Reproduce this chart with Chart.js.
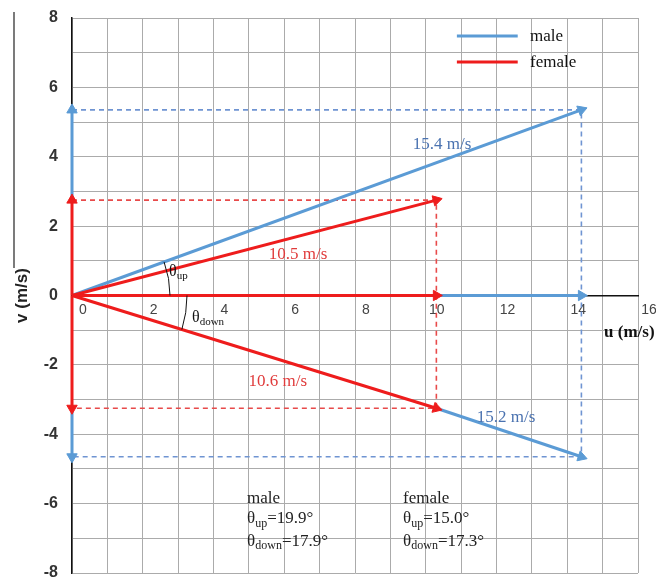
<!DOCTYPE html>
<html>
<head>
<meta charset="utf-8">
<script src="https://cdn.jsdelivr.net/npm/chart.js@4.4.1/dist/chart.umd.min.js"></script>
<style>
  html, body { margin: 0; padding: 0; background: #fff; }
  canvas { display: block; }
</style>
</head>
<body>
<canvas id="chart" width="656" height="581"></canvas>
<script>
// groups and their colours
const groups = ["male", "female"];
const groupColors = ["#5b9bd5", "#ee1c1c"];
const dashColors = ["#6f94d2", "#e84a4a"];
// velocity components (m/s)
const uComp = [14.4, 10.3];
const vUp = [5.35, 2.75];
const vDown = [-4.65, -3.25];
// labels
const speedUp = ["15.4 m/s", "10.5 m/s"];
const speedDown = ["15.2 m/s", "10.6 m/s"];
const thetaUp = ["19.9", "15.0"];
const thetaDown = ["17.9", "17.3"];
const xTicks = [0, 2, 4, 6, 8, 10, 12, 14, 16];
const yTicks = [-8, -6, -4, -2, 0, 2, 4, 6, 8];

const M = 0, F = 1;
const SERIF = '"Liberation Serif", "Times New Roman", serif';

Chart.defaults.font.family = '"Liberation Sans", Arial, sans-serif';

// rotate the triangle at the end of a segment so it points along it
function tipRotation(ctx) {
  const d = ctx.dataset.data;
  const i = ctx.dataIndex;
  if (i === 0) return 0;
  const xs = ctx.chart.scales.x, ys = ctx.chart.scales.y;
  const dx = xs.getPixelForValue(d[i].x) - xs.getPixelForValue(d[i - 1].x);
  const dy = ys.getPixelForValue(d[i].y) - ys.getPixelForValue(d[i - 1].y);
  return Math.atan2(dx, -dy) * 180 / Math.PI;
}

function arrow(points, g) {
  return {
    data: points.map(p => ({ x: p[0], y: p[1] })),
    showLine: true,
    borderColor: groupColors[g],
    backgroundColor: groupColors[g],
    borderWidth: 3,
    pointRadius: ctx => ctx.dataIndex === ctx.dataset.data.length - 1 ? 6 : 0,
    pointStyle: "triangle",
    pointRotation: tipRotation,
    pointBorderWidth: 1,
    clip: false,
    order: g === F ? 1 : 2
  };
}

function dashed(g) {
  return {
    data: [[0, vUp[g]], [uComp[g], vUp[g]], [uComp[g], vDown[g]], [0, vDown[g]]].map(p => ({ x: p[0], y: p[1] })),
    showLine: true,
    borderColor: dashColors[g],
    borderWidth: 1.6,
    borderDash: [5, 4],
    pointRadius: 0,
    clip: false,
    order: 3
  };
}

const datasets = [
  dashed(M),
  dashed(F),
  arrow([[0, 0], [uComp[M], vUp[M]]], M),
  arrow([[uComp[F], vDown[F]], [uComp[M], vDown[M]]], M),
  arrow([[uComp[F], 0], [uComp[M], 0]], M),
  arrow([[0, vUp[F]], [0, vUp[M]]], M),
  arrow([[0, vDown[F]], [0, vDown[M]]], M),
  arrow([[0, 0], [uComp[F], vUp[F]]], F),
  arrow([[0, 0], [uComp[F], vDown[F]]], F),
  arrow([[0, 0], [uComp[F], 0]], F),
  arrow([[0, 0], [0, vUp[F]]], F),
  arrow([[0, 0], [0, vDown[F]]], F)
];

function subText(ctx, x, y, base, sub, rest, size, color) {
  ctx.fillStyle = color;
  ctx.textAlign = "left";
  ctx.textBaseline = "middle";
  ctx.font = size + "px " + SERIF;
  ctx.fillText(base, x, y);
  x += ctx.measureText(base).width;
  ctx.font = Math.round(size * 0.68) + "px " + SERIF;
  ctx.fillText(sub, x, y + size * 0.3);
  x += ctx.measureText(sub).width;
  if (rest) {
    ctx.font = size + "px " + SERIF;
    ctx.fillText(rest, x, y);
  }
}

const notes = {
  id: "notes",
  afterDraw(chart) {
    const { ctx, scales: { x, y } } = chart;
    const px = v => x.getPixelForValue(v), py = v => y.getPixelForValue(v);
    const ox = px(0), oy = py(0);
    ctx.save();

    // line above the y title
    ctx.strokeStyle = "#333";
    ctx.lineWidth = 1.3;
    ctx.beginPath();
    ctx.moveTo(14, 12);
    ctx.lineTo(14, 268);
    ctx.stroke();

    // angle arcs
    const aUp = Math.atan2(oy - py(vUp[M]), px(uComp[M]) - ox);
    const aDown = Math.atan2(py(vDown[F]) - oy, px(uComp[F]) - ox);
    ctx.strokeStyle = "#111";
    ctx.lineWidth = 1;
    ctx.beginPath();
    ctx.arc(ox, oy, 98, -aUp, 0);
    ctx.stroke();
    ctx.beginPath();
    ctx.arc(ox, oy, 115, 0, aDown);
    ctx.stroke();
    subText(ctx, ox + 97, oy - 24, "θ", "up", "", 16, "#111");
    subText(ctx, ox + 120, oy + 22, "θ", "down", "", 16, "#111");

    // speed labels
    ctx.textAlign = "center";
    ctx.textBaseline = "middle";
    ctx.font = "17px " + SERIF;
    ctx.fillStyle = "#4a72b0";
    ctx.fillText(speedUp[M], px(10.46), py(4.34));
    ctx.fillText(speedDown[M], px(12.27), py(-3.53));
    ctx.fillStyle = "#e03c3c";
    ctx.fillText(speedUp[F], px(6.39), py(1.17));
    ctx.fillText(speedDown[F], px(5.82), py(-2.49));

    // u axis title
    ctx.textAlign = "left";
    ctx.fillStyle = "#111";
    ctx.font = "bold 17px " + SERIF;
    ctx.fillText("u (m/s)", px(15.04), py(-1.08));

    // legend
    groups.forEach((g, i) => {
      const ly = py(7.48 - i * 0.75);
      ctx.strokeStyle = groupColors[i];
      ctx.lineWidth = 3;
      ctx.beginPath();
      ctx.moveTo(px(10.88), ly);
      ctx.lineTo(px(12.6), ly);
      ctx.stroke();
      ctx.fillStyle = "#111";
      ctx.font = "17px " + SERIF;
      ctx.textAlign = "left";
      ctx.fillText(g, px(12.95), ly);
    });

    // angle summary blocks
    [4.95, 9.36].forEach((bx, i) => {
      const lx = px(bx);
      ctx.fillStyle = "#222";
      ctx.font = "17px " + SERIF;
      ctx.textAlign = "left";
      ctx.fillText(groups[i], lx, py(-5.84));
      subText(ctx, lx, py(-6.44), "θ", "up", "=" + thetaUp[i] + "°", 17, "#222");
      subText(ctx, lx, py(-7.08), "θ", "down", "=" + thetaDown[i] + "°", 17, "#222");
    });

    ctx.restore();
  }
};

new Chart(document.getElementById("chart"), {
  type: "scatter",
  data: { datasets },
  options: {
    responsive: false,
    animation: false,
    layout: { padding: { top: 18, right: 18, bottom: 8, left: 0 } },
    plugins: { legend: { display: false }, tooltip: { enabled: false } },
    scales: {
      x: {
        type: "linear",
        min: xTicks[0],
        max: xTicks[xTicks.length - 1],
        position: { y: 0 },
        afterFit: s => {
          s.height = 0;
          s.paddingTop = 0; s.paddingBottom = 0;
          s.paddingLeft = 0; s.paddingRight = 0;
        },
        grid: { color: "#ababab", lineWidth: 1, drawTicks: false },
        border: { color: "#111", width: 1.5 },
        ticks: {
          stepSize: 1,
          autoSkip: false,
          maxRotation: 0,
          padding: 6,
          labelOffset: 11,
          color: "#444",
          font: { size: 14 },
          callback: v => xTicks.includes(v) ? String(v) : ""
        }
      },
      y: {
        type: "linear",
        min: yTicks[0],
        max: yTicks[yTicks.length - 1],
        afterFit: s => {
          s.width = 72;
          s.paddingTop = 0; s.paddingBottom = 0;
        },
        grid: { color: "#ababab", lineWidth: 1, drawTicks: false },
        border: { color: "#111", width: 1.5 },
        ticks: {
          stepSize: 1,
          autoSkip: false,
          padding: 14,
          color: "#333",
          font: { size: 16, weight: "bold" },
          callback: v => yTicks.includes(v) ? String(v) : ""
        },
        title: {
          display: true,
          text: "v (m/s)",
          color: "#222",
          font: { size: 17, weight: "bold" },
          padding: { top: 12, bottom: 0 }
        }
      }
    }
  },
  plugins: [notes]
});
</script>
</body>
</html>
